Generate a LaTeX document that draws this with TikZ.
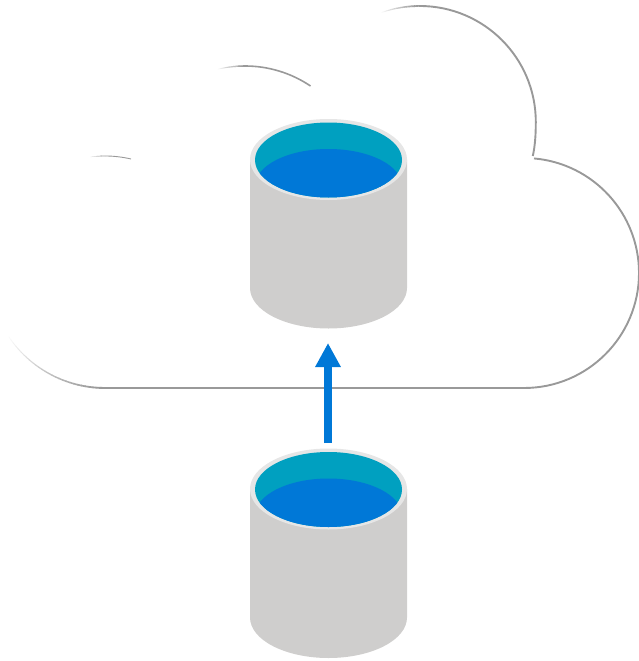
\documentclass[tikz,border=0pt]{standalone}
\usetikzlibrary{arrows.meta,calc}
\definecolor{cloudline}{HTML}{999999}
\definecolor{cylbody}{HTML}{CFCECD}
\definecolor{cylrim}{HTML}{E6E6E6}
\definecolor{cylteal}{HTML}{00A0C0}
\definecolor{cylblue}{HTML}{0078D7}
\tikzset{
  cloudstroke/.style={draw=cloudline,line width=1.9bp},
  flowarrow/.style={draw=cylblue,line width=8.4bp,-{Triangle[length=24bp,width=24bp]}},
}
% arc from angle #4 (full strength) to angle #5 (faded out), start width #6
\newcommand{\fadearc}[6]{%
  \foreach \i in {0,...,29}{%
    \pgfmathsetmacro{\sa}{#4+(#5-#4)*\i/30}%
    \pgfmathsetmacro{\ea}{#4+(#5-#4)*(\i+1.15)/30}%
    \pgfmathsetmacro{\st}{100-100*(\i/29)^1.3}%
    \pgfmathsetmacro{\lw}{#6-0.6*#6*\i/29}%
    \draw[draw=cloudline!\st!white,line width=\lw bp] ({#1+#3*cos(\sa)},{#2+#3*sin(\sa)}) arc[start angle=\sa,end angle=\ea,radius=#3];
  }%
}
% cylinder; #1 = name prefix, #2 = vertical offset
\newcommand{\drawcyl}[2]{%
  \begin{scope}[shift={(0,#2)}]
    \fill[cylbody] (250,159.5) -- (250,288) arc[start angle=180,end angle=0,x radius=78.5,y radius=40.5] -- (407,159.5) -- cycle;
    \fill[cylrim] (328.5,159.5) ellipse[x radius=78.5,y radius=40.5];
    \fill[cylteal] (328.5,160) ellipse[x radius=73.5,y radius=37.5];
    \begin{scope}
      \clip (328.5,160) ellipse[x radius=73.5,y radius=37.5];
      \fill[cylblue] (328.5,186) ellipse[x radius=73.5,y radius=37];
    \end{scope}
    \coordinate (#1top) at (328,119);
    \coordinate (#1bottom) at (328,328);
  \end{scope}%
}
\begin{document}
\begin{tikzpicture}[x=1bp,y=-1bp]
  \useasboundingbox (0,0) rectangle (639,661);
  % cloud outline
  \coordinate (cloudA) at (105,388);
  \coordinate (cloudB) at (524,388);
  \draw[cloudstroke] (cloudA) -- (cloudB)
    arc[start angle=90,end angle=-85,radius=115];
  \draw[cloudstroke] (532.8,156) .. controls (535,146) and (535.8,135) .. (535.8,122)
    arc[start angle=0,end angle=-90,radius=113.5+2.5];
  \fadearc{419.8}{122}{116}{-90}{-110}{1.9}
  \fadearc{105}{272}{116}{90}{148}{1.9}
  \fadearc{245}{183}{117}{-90}{-104}{1.6}
  \draw[cloudstroke,line width=1.6bp] (310.5,86) arc[start angle=-56,end angle=-90,radius=117];
  \fadearc{105}{270}{114}{-90}{-98}{0.9}
  \draw[draw=cloudline,line width=.9bp] (131,159) arc[start angle=-76.8,end angle=-90,radius=114];
  % cylinders
  \drawcyl{upper}{0}
  \drawcyl{lower}{329.5}
  % arrow
  \coordinate (arrowstart) at ($(lowertop)+(0,-5.5)$);
  \coordinate (arrowend) at ($(upperbottom)+(0,15)$);
  \draw[flowarrow] (arrowstart) -- (arrowend);
\end{tikzpicture}
\end{document}
